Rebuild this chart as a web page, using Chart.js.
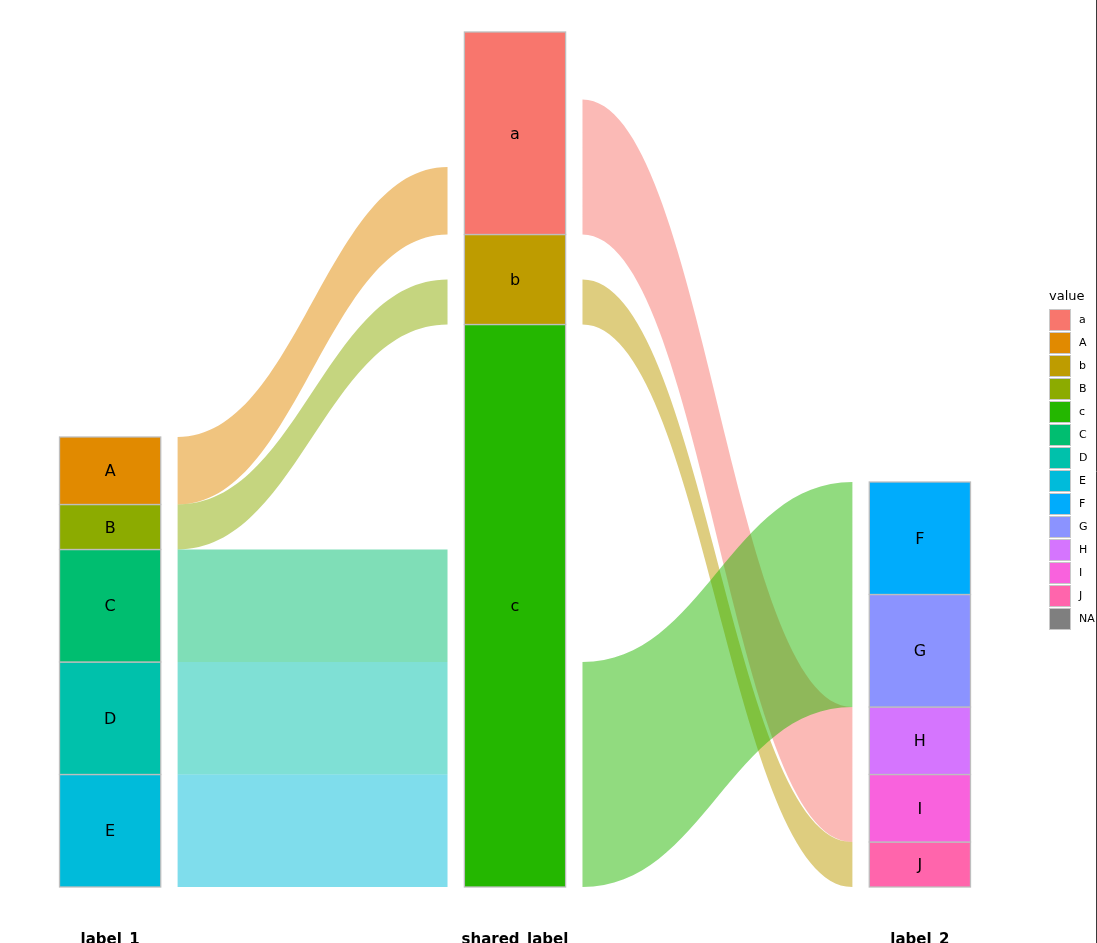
<!DOCTYPE html>
<html>
<head>
<meta charset="utf-8">
<script src="https://cdn.jsdelivr.net/npm/chart.js@4.4.0/dist/chart.umd.min.js"></script>
<style>
  html, body { margin: 0; padding: 0; background: #fff; }
  #wrap { width: 1097px; height: 943px; }
</style>
</head>
<body>
<div id="wrap"><canvas id="alluvialChart" width="1097" height="943"></canvas></div>
<script>
// axes (x positions 1, 2, 3)
const axisLabels = ['label_1', 'shared_label', 'label_2'];

// strata per axis, listed top to bottom
const strata1 = ['A', 'B', 'C', 'D', 'E'];
const counts1 = [3, 2, 5, 5, 5];
const strataShared = ['a', 'b', 'c'];
const countsShared = [9, 4, 25];
const strata2 = ['F', 'G', 'H', 'I', 'J'];
const counts2 = [5, 5, 3, 3, 2];

// flows label_1 -> shared_label
const flow1From = ['A', 'B', 'C', 'D', 'E'];
const flow1To = ['a', 'b', 'c', 'c', 'c'];
const flow1N = [3, 2, 5, 5, 5];

// flows shared_label -> label_2
const flow2From = ['a', 'a', 'b', 'c', 'c'];
const flow2To = ['H', 'I', 'J', 'F', 'G'];
const flow2N = [3, 3, 2, 5, 5];

// legend
const legendValues = ['a', 'A', 'b', 'B', 'c', 'C', 'D', 'E', 'F', 'G', 'H', 'I', 'J', 'NA'];
const legendColors = ['#F8766D', '#E18A00', '#BE9C00', '#8CAB00', '#24B700', '#00BE70', '#00C1AB',
                      '#00BBDA', '#00ACFC', '#8B93FF', '#D575FE', '#F962DD', '#FF65AC', '#7F7F7F'];

const colorOf = v => legendColors[legendValues.indexOf(v)];

// stack strata from the bottom (last item at bottom)
function stack(names, counts) {
    const out = {};
    let y = 0;
    for (let i = names.length - 1; i >= 0; i--) {
        out[names[i]] = { lo: y, hi: y + counts[i] };
        y += counts[i];
    }
    return out;
}

const stacks = [stack(strata1, counts1), stack(strataShared, countsShared), stack(strata2, counts2)];

// place flow ends inside their strata, ordered by the other end
function placeFlows(from, to, n, leftStack, rightStack) {
    const flows = from.map((f, i) => ({ from: f, to: to[i], n: n[i] }));
    const leftUsed = {}, rightUsed = {};
    [...flows].sort((p, q) => rightStack[p.to].lo - rightStack[q.to].lo).forEach(f => {
        const base = leftStack[f.from].lo + (leftUsed[f.from] || 0);
        f.l0 = base; f.l1 = base + f.n;
        leftUsed[f.from] = (leftUsed[f.from] || 0) + f.n;
    });
    [...flows].sort((p, q) => leftStack[p.from].lo - leftStack[q.from].lo).forEach(f => {
        const base = rightStack[f.to].lo + (rightUsed[f.to] || 0);
        f.r0 = base; f.r1 = base + f.n;
        rightUsed[f.to] = (rightUsed[f.to] || 0) + f.n;
    });
    return flows;
}

const flowsLeft = placeFlows(flow1From, flow1To, flow1N, stacks[0], stacks[1]);
const flowsRight = placeFlows(flow2From, flow2To, flow2N, stacks[1], stacks[2]);

function hexA(hex, a) {
    const r = parseInt(hex.slice(1, 3), 16), g = parseInt(hex.slice(3, 5), 16), b = parseInt(hex.slice(5, 7), 16);
    return `rgba(${r},${g},${b},${a})`;
}

// s-shaped edge of a ribbon
function curveEdge(ctx, xa, ya, xb, yb) {
    const k = 0.45 * (xb - xa);
    ctx.bezierCurveTo(xa + k, ya, xb - k, yb, xb, yb);
}

const alluvialPlugin = {
    id: 'alluvial',
    beforeDatasetsDraw(chart) {
        const { ctx, scales: { x, y } } = chart;
        const gap = 1 / 6, half = 1 / 8;

        // ribbons, one path per source stratum so neighbours join without seams
        [flowsLeft, flowsRight].forEach((flows, k) => {
            const xa = x.getPixelForValue(k + 1 + gap);
            const xb = x.getPixelForValue(k + 2 - gap);
            const groups = [...new Set(flows.map(f => f.from))];
            groups.forEach(g => {
                ctx.save();
                ctx.beginPath();
                flows.filter(f => f.from === g).forEach(f => {
                    ctx.moveTo(xa, y.getPixelForValue(f.l1));
                    curveEdge(ctx, xa, y.getPixelForValue(f.l1), xb, y.getPixelForValue(f.r1));
                    ctx.lineTo(xb, y.getPixelForValue(f.r0));
                    curveEdge(ctx, xb, y.getPixelForValue(f.r0), xa, y.getPixelForValue(f.l0));
                    ctx.closePath();
                });
                ctx.fillStyle = hexA(colorOf(g), 0.5);
                ctx.fill();
                ctx.restore();
            });
        });

        // strata
        stacks.forEach((st, k) => {
            const x0 = x.getPixelForValue(k + 1 - half);
            const x1 = x.getPixelForValue(k + 1 + half);
            Object.keys(st).forEach(name => {
                const yt = y.getPixelForValue(st[name].hi);
                const yb = y.getPixelForValue(st[name].lo);
                ctx.save();
                ctx.fillStyle = colorOf(name);
                ctx.fillRect(x0, yt, x1 - x0, yb - yt);
                ctx.strokeStyle = '#BEBEBE';
                ctx.lineWidth = 1.3;
                ctx.strokeRect(x0, yt, x1 - x0, yb - yt);
                ctx.fillStyle = '#000';
                ctx.font = '16px "DejaVu Sans"';
                ctx.textAlign = 'center';
                ctx.textBaseline = 'middle';
                ctx.fillText(name, (x0 + x1) / 2, (yt + yb) / 2 + 1.5);
                ctx.restore();
            });
        });

        // axis labels
        ctx.save();
        ctx.fillStyle = '#000';
        ctx.font = 'bold 15px "DejaVu Sans"';
        ctx.textAlign = 'center';
        ctx.textBaseline = 'alphabetic';
        axisLabels.forEach((lab, k) => ctx.fillText(lab, x.getPixelForValue(k + 1), 944));
        ctx.restore();

        // legend
        ctx.save();
        ctx.fillStyle = '#000';
        ctx.font = '13px "DejaVu Sans"';
        ctx.textAlign = 'left';
        ctx.textBaseline = 'alphabetic';
        ctx.fillText('value', 1049, 300);
        ctx.font = '11px "DejaVu Sans"';
        ctx.textBaseline = 'middle';
        legendValues.forEach((v, i) => {
            const ky = 309 + i * 23;
            ctx.fillStyle = legendColors[i];
            ctx.fillRect(1049, ky, 22, 22);
            ctx.strokeStyle = '#C8C8C8';
            ctx.lineWidth = 1;
            ctx.strokeRect(1049.5, ky + 0.5, 21, 21);
            ctx.fillStyle = '#000';
            ctx.fillText(v, 1079, ky + 11);
        });
        ctx.restore();

        // thin frame line at the right edge
        ctx.save();
        ctx.strokeStyle = '#3a3a3a';
        ctx.lineWidth = 1;
        ctx.beginPath();
        ctx.moveTo(1096.5, 0);
        ctx.lineTo(1096.5, 943);
        ctx.stroke();
        ctx.restore();
    }
};

new Chart(document.getElementById('alluvialChart').getContext('2d'), {
    type: 'scatter',
    data: { datasets: [{ data: [], showLine: false }] },
    options: {
        responsive: false,
        animation: false,
        layout: { padding: { left: 0, right: 67, top: 0, bottom: 23 } },
        plugins: { legend: { display: false }, tooltip: { enabled: false } },
        scales: {
            x: { type: 'linear', min: 0.728, max: 3.272, display: false },
            y: { type: 'linear', min: -1.467, max: 39.422, display: false }
        }
    },
    plugins: [alluvialPlugin]
});
</script>
</body>
</html>
